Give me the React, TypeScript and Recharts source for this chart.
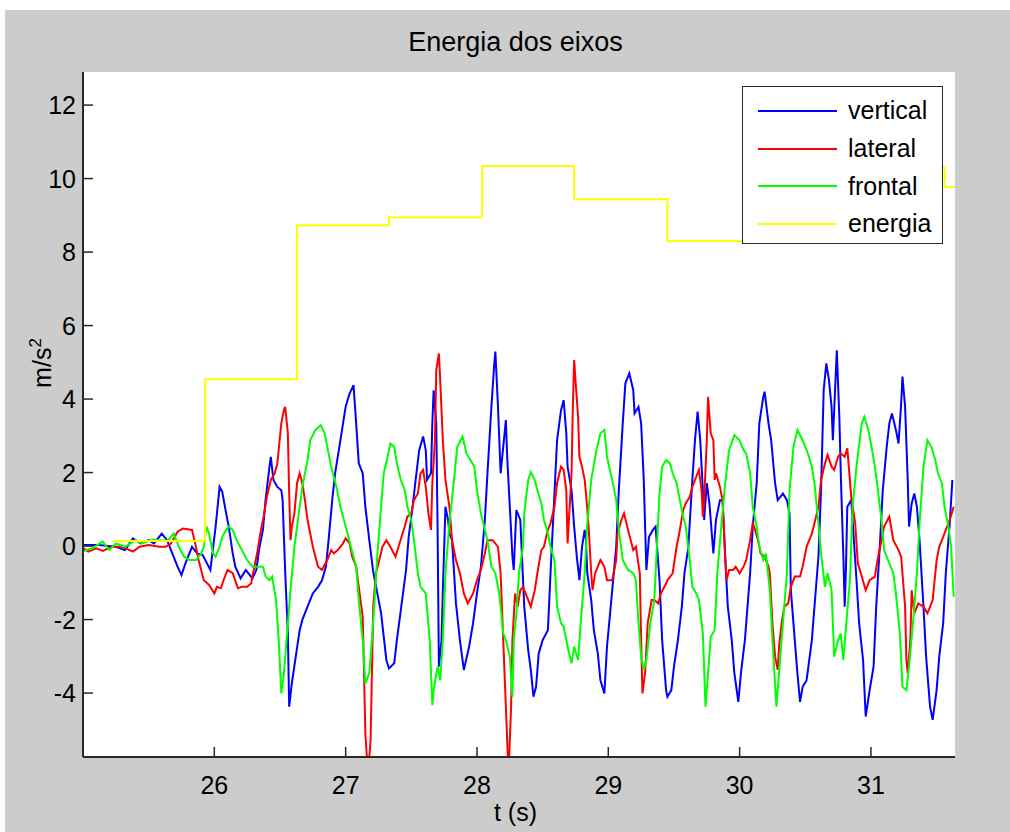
import React from 'react';
import { LineChart, Line, XAxis, YAxis, CartesianGrid, Legend } from 'recharts';

// t (s), m/s^2
const xTicks = [26, 27, 28, 29, 30, 31];
const yTicks = [-4, -2, 0, 2, 4, 6, 8, 10, 12];

const vertical: [number, number][] = [
  [24.99, 0.03], [25.12, 0.03], [25.25, -0.02], [25.32, -0.11], [25.38, 0.21], [25.44, 0.07], [25.5, 0.16], [25.54, 0.07],
  [25.6, 0.34], [25.64, 0.16], [25.68, -0.2], [25.72, -0.56], [25.75, -0.79], [25.78, -0.47], [25.83, -0.02], [25.87, -0.2],
  [25.91, -0.24], [25.97, -0.65], [26.01, 0.53], [26.04, 1.61], [26.06, 1.48], [26.09, 0.89], [26.11, 0.53], [26.14, -0.2],
  [26.16, -0.56], [26.2, -0.88], [26.24, -0.65], [26.26, -0.74], [26.29, -0.88], [26.32, -0.65], [26.34, -0.11], [26.37, 0.44],
  [26.39, 1.25], [26.42, 2.16], [26.43, 2.43], [26.45, 1.8], [26.48, 1.61], [26.51, 1.52], [26.52, 1.25], [26.54, -0.74],
  [26.56, -2.38], [26.57, -4.37], [26.59, -3.74], [26.62, -3.01], [26.65, -2.29], [26.67, -2.01], [26.71, -1.65], [26.75, -1.29],
  [26.79, -1.11], [26.82, -0.93], [26.85, -0.56], [26.87, 0.16], [26.9, 1.34], [26.92, 1.98], [26.96, 2.88], [27.0, 3.79],
  [27.03, 4.15], [27.06, 4.38], [27.08, 3.34], [27.1, 2.25], [27.13, 1.98], [27.15, 1.07], [27.18, 0.16], [27.21, -0.7],
  [27.27, -1.83], [27.31, -3.1], [27.33, -3.33], [27.37, -3.19], [27.39, -2.56], [27.43, -1.47], [27.46, -0.65], [27.48, 0.25],
  [27.51, 1.07], [27.53, 1.71], [27.56, 2.61], [27.59, 2.98], [27.61, 2.61], [27.62, 1.8], [27.65, 1.98], [27.66, 3.34],
  [27.67, 4.24], [27.69, 3.34], [27.7, 0.53], [27.71, -3.28], [27.73, -2.56], [27.74, -1.2], [27.76, 1.07], [27.78, 0.71],
  [27.79, 0.34], [27.81, 0.16], [27.84, -1.56], [27.87, -2.56], [27.9, -3.37], [27.94, -2.74], [27.97, -2.1], [28.0, -1.29],
  [28.03, -0.56], [28.06, 0.71], [28.08, 1.98], [28.11, 3.79], [28.13, 4.88], [28.14, 5.29], [28.16, 3.79], [28.18, 1.98],
  [28.2, 2.7], [28.22, 3.43], [28.23, 2.43], [28.25, 1.07], [28.27, -0.29], [28.28, -0.65], [28.3, 0.98], [28.32, 0.8],
  [28.33, 0.71], [28.36, -1.65], [28.39, -2.83], [28.41, -3.37], [28.43, -4.1], [28.45, -3.83], [28.47, -2.92], [28.5, -2.56],
  [28.54, -2.29], [28.56, -0.74], [28.59, 1.43], [28.61, 2.88], [28.64, 3.7], [28.66, 3.97], [28.68, 3.07], [28.69, 2.16],
  [28.72, 1.52], [28.74, 0.53], [28.76, -0.29], [28.78, -0.93], [28.8, -0.02], [28.82, 0.44], [28.83, 0.16], [28.84, -0.74],
  [28.87, -1.47], [28.89, -2.29], [28.92, -2.92], [28.94, -3.65], [28.97, -4.01], [28.99, -2.74], [29.03, -1.2], [29.06, -0.02],
  [29.08, 1.52], [29.11, 3.34], [29.13, 4.43], [29.16, 4.7], [29.19, 4.24], [29.2, 3.61], [29.23, 3.79], [29.25, 3.34],
  [29.27, 1.8], [29.29, -0.65], [29.31, 0.25], [29.34, 0.44], [29.36, 0.53], [29.39, -0.93], [29.41, -2.56], [29.44, -3.92],
  [29.45, -4.1], [29.48, -3.92], [29.5, -3.28], [29.53, -2.56], [29.56, -1.65], [29.58, -0.74], [29.61, -0.02], [29.62, 0.62],
  [29.64, 1.8], [29.66, 2.88], [29.68, 3.66], [29.7, 2.88], [29.72, 1.52], [29.73, 0.71], [29.75, 1.71], [29.77, 1.16],
  [29.8, -0.2], [29.82, 0.71], [29.85, 1.25], [29.87, 1.25], [29.89, -0.29], [29.91, -1.65], [29.94, -2.56], [29.96, -3.46],
  [29.99, -4.24], [30.01, -3.46], [30.04, -2.56], [30.06, -1.65], [30.08, -0.74], [30.1, 0.53], [30.13, 1.71], [30.15, 3.34],
  [30.18, 4.06], [30.19, 4.2], [30.22, 3.34], [30.24, 2.88], [30.27, 1.71], [30.29, 1.25], [30.33, 1.43], [30.36, 1.25],
  [30.38, 0.89], [30.39, -1.2], [30.42, -2.56], [30.44, -3.46], [30.46, -4.24], [30.48, -3.83], [30.51, -3.65], [30.55, -2.56],
  [30.57, -1.65], [30.6, -0.29], [30.62, 1.52], [30.64, 4.24], [30.66, 4.97], [30.68, 4.52], [30.7, 3.79], [30.71, 2.88],
  [30.73, 4.52], [30.74, 5.33], [30.76, 3.43], [30.77, 1.98], [30.79, -0.29], [30.8, -1.65], [30.81, -0.56], [30.82, 1.07],
  [30.85, 1.25], [30.86, 0.71], [30.89, -0.93], [30.91, -2.1], [30.94, -3.1], [30.96, -4.64], [30.99, -3.92], [31.02, -3.28],
  [31.04, -1.65], [31.07, 0.16], [31.09, 1.52], [31.12, 2.7], [31.14, 3.34], [31.16, 3.61], [31.19, 3.16], [31.21, 2.79],
  [31.23, 3.88], [31.24, 4.61], [31.26, 3.79], [31.28, 1.8], [31.29, 0.53], [31.31, 1.16], [31.33, 1.43], [31.35, 1.07],
  [31.37, 0.16], [31.4, -1.65], [31.42, -3.01], [31.45, -4.37], [31.47, -4.73], [31.5, -3.92], [31.52, -3.01], [31.55, -2.1],
  [31.57, -0.74], [31.6, 0.62], [31.62, 1.8],
];

const lateral: [number, number][] = [
  [24.99, -0.02], [25.04, -0.15], [25.1, -0.06], [25.15, -0.13], [25.22, -0.02], [25.3, -0.02], [25.38, -0.15], [25.43, -0.02],
  [25.5, 0.03], [25.58, -0.02], [25.63, -0.02], [25.67, 0.07], [25.72, 0.39], [25.76, 0.48], [25.83, 0.44], [25.86, -0.02],
  [25.88, -0.38], [25.92, -0.93], [25.96, -1.06], [26.0, -1.29], [26.02, -1.11], [26.05, -1.15], [26.07, -0.93], [26.1, -0.65],
  [26.14, -0.74], [26.18, -1.15], [26.21, -1.11], [26.25, -1.11], [26.28, -1.02], [26.3, -0.65], [26.33, -0.11], [26.35, 0.34],
  [26.38, 0.89], [26.4, 1.34], [26.43, 1.8], [26.46, 1.98], [26.48, 2.25], [26.51, 3.34], [26.53, 3.7], [26.54, 3.79],
  [26.56, 3.07], [26.57, 1.43], [26.58, 0.16], [26.59, 0.53], [26.61, 0.89], [26.63, 1.71], [26.65, 1.98], [26.67, 1.71],
  [26.69, 1.25], [26.71, 0.71], [26.75, -0.02], [26.79, -0.56], [26.82, -0.65], [26.86, -0.38], [26.89, -0.11], [26.91, -0.2],
  [26.94, -0.11], [26.98, 0.07], [27.0, 0.21], [27.03, 0.07], [27.05, -0.29], [27.08, -0.56], [27.1, -1.11], [27.13, -1.92],
  [27.14, -3.46], [27.15, -5.1], [27.17, -6.2], [27.19, -5.28], [27.2, -3.46], [27.21, -1.65], [27.23, -0.74], [27.25, -0.47],
  [27.28, -0.02], [27.31, 0.16], [27.34, -0.02], [27.38, -0.29], [27.41, 0.07], [27.45, 0.53], [27.47, 0.8], [27.5, 0.89],
  [27.52, 1.25], [27.55, 1.43], [27.57, 1.98], [27.59, 2.07], [27.61, 1.61], [27.63, 0.89], [27.65, 0.44], [27.66, 1.71],
  [27.68, 2.88], [27.69, 4.79], [27.71, 5.24], [27.72, 4.52], [27.74, 2.88], [27.76, 1.8], [27.79, 1.07], [27.81, 0.16],
  [27.84, -0.38], [27.87, -0.74], [27.9, -1.29], [27.93, -1.56], [27.97, -1.29], [28.0, -0.93], [28.03, -0.65], [28.06, -0.2],
  [28.08, 0.16], [28.12, 0.16], [28.16, -0.02], [28.18, -0.74], [28.2, -2.56], [28.22, -4.37], [28.24, -6.2], [28.26, -4.37],
  [28.27, -2.56], [28.29, -1.29], [28.31, -1.65], [28.33, -1.2], [28.35, -1.11], [28.37, -1.29], [28.41, -1.65], [28.44, -1.2],
  [28.46, -0.74], [28.49, -0.11], [28.51, -0.02], [28.54, 0.44], [28.56, 0.62], [28.59, 1.07], [28.61, 1.71], [28.64, 2.16],
  [28.66, 2.07], [28.68, 1.52], [28.69, 0.07], [28.7, 0.71], [28.72, 1.98], [28.73, 3.79], [28.74, 5.06], [28.75, 4.52],
  [28.77, 3.52], [28.78, 2.43], [28.8, 2.16], [28.82, 1.8], [28.83, 1.43], [28.85, 0.53], [28.87, -0.74], [28.88, -1.2],
  [28.9, -0.74], [28.92, -0.56], [28.94, -0.38], [28.97, -0.56], [28.99, -0.93], [29.03, -0.93], [29.06, -0.38], [29.07, 0.34],
  [29.1, 0.71], [29.12, 0.89], [29.15, 0.44], [29.19, -0.11], [29.21, -0.02], [29.24, -0.74], [29.25, -2.56], [29.26, -4.01],
  [29.28, -3.46], [29.3, -2.1], [29.33, -1.47], [29.35, -1.47], [29.38, -1.56], [29.4, -1.29], [29.44, -1.02], [29.45, -0.93],
  [29.49, -0.74], [29.52, -0.02], [29.54, 0.34], [29.57, 0.98], [29.59, 1.16], [29.62, 1.34], [29.64, 1.61], [29.67, 1.89],
  [29.69, 2.07], [29.71, 1.52], [29.72, 0.8], [29.73, 1.25], [29.75, 2.88], [29.76, 4.06], [29.78, 3.07], [29.8, 2.88],
  [29.81, 1.8], [29.82, 1.98], [29.85, 1.61], [29.87, 1.25], [29.89, -0.29], [29.9, -0.93], [29.92, -0.65], [29.95, -0.65],
  [29.97, -0.56], [30.0, -0.74], [30.03, -0.56], [30.05, -0.38], [30.08, 0.16], [30.1, 0.62], [30.11, 0.53], [30.14, 0.16],
  [30.16, -0.2], [30.19, -0.29], [30.22, -0.56], [30.23, -0.74], [30.25, -2.1], [30.27, -3.01], [30.29, -3.37], [30.3, -2.74],
  [30.32, -2.1], [30.34, -1.65], [30.37, -1.56], [30.39, -1.11], [30.42, -0.83], [30.46, -0.83], [30.48, -0.56], [30.51, -0.02],
  [30.52, 0.07], [30.55, 0.34], [30.57, 0.62], [30.6, 1.07], [30.62, 1.8], [30.65, 2.25], [30.67, 2.48], [30.7, 2.16],
  [30.72, 2.07], [30.75, 2.43], [30.77, 2.52], [30.8, 2.43], [30.82, 2.66], [30.85, 1.34], [30.88, 0.62], [30.9, -0.47],
  [30.93, -0.83], [30.96, -1.2], [30.99, -0.93], [31.03, -0.83], [31.05, -0.38], [31.08, 0.16], [31.1, 0.53], [31.14, 0.8],
  [31.17, 0.16], [31.21, -0.11], [31.23, -0.29], [31.26, -1.65], [31.27, -3.1], [31.28, -3.46], [31.3, -2.56], [31.31, -1.2],
  [31.33, -1.83], [31.36, -1.56], [31.4, -1.65], [31.43, -1.83], [31.47, -1.47], [31.5, -0.38], [31.52, -0.02], [31.55, 0.25],
  [31.57, 0.44], [31.6, 0.71], [31.63, 1.07],
];

const frontal: [number, number][] = [
  [24.99, -0.15], [25.07, -0.06], [25.15, 0.12], [25.2, -0.11], [25.25, 0.07], [25.32, -0.02], [25.4, 0.16], [25.45, 0.07],
  [25.53, 0.18], [25.6, 0.15], [25.65, 0.16], [25.69, 0.34], [25.73, -0.02], [25.77, -0.29], [25.81, -0.38], [25.86, -0.38],
  [25.9, -0.2], [25.92, -0.02], [25.94, 0.53], [25.96, 0.34], [25.99, -0.2], [26.01, -0.29], [26.04, -0.02], [26.06, 0.25],
  [26.09, 0.44], [26.11, 0.53], [26.14, 0.44], [26.17, 0.16], [26.21, -0.11], [26.25, -0.38], [26.29, -0.56], [26.33, -0.56],
  [26.37, -0.56], [26.39, -0.83], [26.42, -0.93], [26.44, -0.83], [26.47, -1.47], [26.49, -2.56], [26.51, -4.01], [26.53, -3.46],
  [26.55, -2.56], [26.58, -1.2], [26.61, -0.02], [26.63, 0.53], [26.67, 1.61], [26.71, 2.34], [26.73, 2.88], [26.77, 3.16],
  [26.81, 3.29], [26.84, 3.07], [26.86, 2.7], [26.89, 2.16], [26.93, 1.61], [26.96, 1.07], [27.0, 0.53], [27.04, -0.02],
  [27.08, -0.56], [27.1, -1.47], [27.13, -2.56], [27.15, -3.74], [27.18, -3.46], [27.2, -2.56], [27.22, -1.5], [27.24, -0.29],
  [27.27, 1.07], [27.29, 1.98], [27.32, 2.43], [27.34, 2.79], [27.37, 2.7], [27.39, 2.25], [27.42, 1.8], [27.45, 1.52],
  [27.47, 1.07], [27.5, 0.71], [27.52, 0.16], [27.55, -0.74], [27.57, -1.11], [27.61, -1.29], [27.64, -2.56], [27.66, -4.33],
  [27.67, -3.92], [27.7, -3.28], [27.72, -3.65], [27.74, -2.56], [27.76, -0.74], [27.79, 0.62], [27.83, 1.98], [27.85, 2.7],
  [27.89, 2.98], [27.92, 2.52], [27.95, 2.34], [27.98, 2.16], [28.0, 1.52], [28.03, 0.89], [28.06, 0.44], [28.08, 0.16],
  [28.11, -0.56], [28.14, -0.74], [28.17, -1.29], [28.2, -2.38], [28.22, -2.56], [28.25, -3.01], [28.27, -4.1], [28.28, -2.56],
  [28.3, -1.83], [28.32, -0.74], [28.35, -0.02], [28.36, 0.89], [28.39, 1.8], [28.41, 2.02], [28.44, 1.8], [28.46, 1.52],
  [28.49, 1.16], [28.51, 0.71], [28.54, 0.34], [28.56, -0.02], [28.59, -0.38], [28.61, -1.65], [28.64, -2.1], [28.66, -2.19],
  [28.69, -2.74], [28.72, -3.19], [28.74, -2.74], [28.77, -3.1], [28.79, -2.1], [28.82, -0.74], [28.84, 0.62], [28.87, 1.8],
  [28.91, 2.61], [28.94, 3.07], [28.97, 3.16], [28.99, 2.43], [29.03, 1.8], [29.06, 1.25], [29.08, 0.44], [29.11, -0.38],
  [29.15, -0.65], [29.19, -0.74], [29.21, -0.93], [29.23, -2.1], [29.25, -3.01], [29.27, -3.37], [29.29, -3.1], [29.32, -2.1],
  [29.35, -1.47], [29.37, -0.02], [29.39, 1.43], [29.41, 2.16], [29.44, 2.34], [29.47, 2.25], [29.49, 1.98], [29.52, 1.71],
  [29.54, 1.34], [29.57, 0.8], [29.59, 0.53], [29.62, -0.38], [29.64, -1.11], [29.67, -1.29], [29.69, -1.47], [29.72, -2.38],
  [29.74, -4.37], [29.76, -3.46], [29.78, -2.47], [29.81, -2.29], [29.83, -0.74], [29.86, 0.53], [29.89, 1.71], [29.92, 2.61],
  [29.96, 3.02], [30.0, 2.88], [30.03, 2.61], [30.05, 2.52], [30.08, 1.98], [30.1, 1.07], [30.13, 0.53], [30.15, -0.02],
  [30.18, -0.38], [30.2, -0.2], [30.23, -1.2], [30.25, -2.56], [30.28, -4.37], [30.3, -3.46], [30.33, -2.1], [30.36, -0.74],
  [30.38, 1.52], [30.41, 2.7], [30.44, 3.16], [30.48, 2.88], [30.51, 2.61], [30.52, 2.52], [30.55, 2.16], [30.57, 1.71],
  [30.6, 0.62], [30.62, -0.2], [30.65, -1.11], [30.67, -0.74], [30.7, -1.2], [30.72, -3.01], [30.75, -2.56], [30.77, -2.38],
  [30.79, -3.1], [30.81, -2.19], [30.84, -0.93], [30.86, 1.07], [30.89, 2.16], [30.93, 3.34], [30.95, 3.52], [30.98, 3.16],
  [31.0, 2.79], [31.03, 2.16], [31.05, 1.61], [31.08, 0.71], [31.1, -0.11], [31.13, -0.38], [31.17, -0.74], [31.19, -1.29],
  [31.22, -2.38], [31.24, -3.83], [31.27, -3.92], [31.29, -3.28], [31.32, -2.1], [31.35, -0.74], [31.37, 0.62], [31.4, 2.16],
  [31.43, 2.88], [31.46, 2.7], [31.49, 2.34], [31.51, 1.98], [31.54, 1.71], [31.56, 1.07], [31.59, 0.53], [31.61, -0.02],
  [31.63, -1.38],
];

// window energy, one value per ~0.7 s window
const energia: [number, number][] = [
  [25.23, 0.14], [25.93, 4.54], [26.63, 8.73], [27.33, 8.95], [28.04, 10.34], [28.74, 9.44],
  [29.45, 8.3], [30.15, 9.9], [30.85, 10.31], [31.56, 9.77], [31.64, 9.77],
];

const toRows = (pts: [number, number][]) => pts.map(([t, v]) => ({ t, v }));

const series = [
  { name: 'vertical', color: '#0000ff', rows: toRows(vertical), step: false },
  { name: 'lateral', color: '#ff0000', rows: toRows(lateral), step: false },
  { name: 'frontal', color: '#00ff00', rows: toRows(frontal), step: false },
  { name: 'energia', color: '#ffff00', rows: toRows(energia), step: true },
];
const seriesOrder = series.map((s) => s.name);

const FONT = '"Liberation Sans", Arial, Helvetica, sans-serif';
const AXIS = '#2a2a2a';

const XTick = ({ x, y, payload }: any) => (
  <g>
    <line x1={x} y1={y} x2={x} y2={y - 10} stroke={AXIS} strokeWidth={1.5} />
    <text x={x} y={y + 37} textAnchor="middle" fontSize={25} fontFamily={FONT} fill="#000">
      {payload.value}
    </text>
  </g>
);

const YTick = ({ x, y, payload }: any) => (
  <g>
    <line x1={x} y1={y} x2={x + 10} y2={y} stroke={AXIS} strokeWidth={1.5} />
    <text x={x - 7} y={y + 9} textAnchor="end" fontSize={25} fontFamily={FONT} fill="#000">
      {payload.value}
    </text>
  </g>
);

const LegendBox = ({ payload }: any) => {
  const items = [...(payload || [])].sort(
    (a: any, b: any) => seriesOrder.indexOf(a.value) - seriesOrder.indexOf(b.value),
  );
  return (
    <div
      style={{
        width: 201,
        height: 158,
        boxSizing: 'border-box',
        border: `1.5px solid ${AXIS}`,
        background: '#fff',
        paddingTop: 5,
        fontFamily: FONT,
      }}
    >
      {items.map((item: any) => (
        <div key={item.value} style={{ display: 'flex', alignItems: 'center', height: 37.7 }}>
          <span style={{ display: 'inline-block', width: 79, height: 2, marginLeft: 15, marginRight: 11, background: item.color }} />
          <span style={{ fontSize: 25, color: '#000', lineHeight: 1 }}>{item.value}</span>
        </div>
      ))}
    </div>
  );
};

const App: React.FC = () => {
  return (
    <div style={{ position: 'absolute', left: 0, top: 0, width: 1010, height: 832, background: '#fff', fontFamily: FONT }}>
      <div style={{ position: 'absolute', left: 5, top: 10, width: 1005, height: 822, background: '#cccccc' }} />
      <div style={{ position: 'absolute', left: 0, top: 0 }}>
        <LineChart width={1010} height={832} margin={{ top: 72, right: 55, bottom: 0, left: 0 }}>
          <CartesianGrid horizontal={false} vertical={false} fill="#ffffff" />
          <XAxis
            dataKey="t"
            type="number"
            domain={[25, 31.64]}
            ticks={xTicks}
            interval={0}
            allowDataOverflow
            height={75}
            tickSize={0}
            tickMargin={0}
            tickLine={false}
            axisLine={{ stroke: AXIS, strokeWidth: 2 }}
            tick={XTick}
          />
          <YAxis
            type="number"
            domain={[-5.74, 12.9]}
            ticks={yTicks}
            interval={0}
            allowDataOverflow
            width={83}
            tickSize={0}
            tickMargin={0}
            tickLine={false}
            axisLine={{ stroke: AXIS, strokeWidth: 2 }}
            tick={YTick}
          />
          {series.map((s) => (
            <Line
              key={s.name}
              data={s.rows}
              dataKey="v"
              name={s.name}
              type={s.step ? 'stepAfter' : 'linear'}
              stroke={s.color}
              strokeWidth={2}
              dot={false}
              activeDot={false}
              isAnimationActive={false}
            />
          ))}
          <Legend
            layout="vertical"
            align="center"
            verticalAlign="middle"
            content={LegendBox}
            wrapperStyle={{ position: 'absolute', left: 742, top: 86, width: 201, height: 158, margin: 0 }}
          />
        </LineChart>
      </div>
      <div style={{ position: 'absolute', left: 0, width: 1031, top: 29, textAlign: 'center', fontSize: 27, lineHeight: 1, color: '#000' }}>
        Energia dos eixos
      </div>
      <div style={{ position: 'absolute', left: 0, width: 1031, top: 800, textAlign: 'center', fontSize: 25, lineHeight: 1, color: '#000' }}>
        t (s)
      </div>
      <div
        style={{
          position: 'absolute',
          left: 41,
          top: 363,
          transform: 'translate(-50%, -50%) rotate(-90deg)',
          fontSize: 25,
          lineHeight: 1,
          whiteSpace: 'nowrap',
          color: '#000',
        }}
      >
        m/s<sup style={{ fontSize: 17 }}>2</sup>
      </div>
    </div>
  );
};

export default App;
